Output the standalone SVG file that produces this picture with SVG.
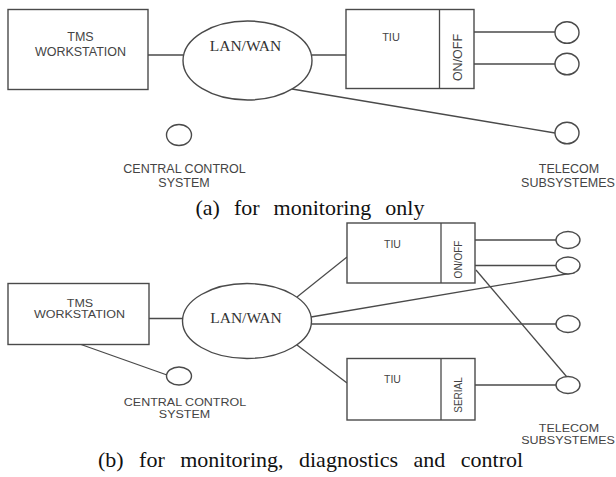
<svg xmlns="http://www.w3.org/2000/svg" width="616" height="477" viewBox="0 0 616 477">
<style>
.shape{fill:#fff;stroke:#4a4a4a;stroke-width:1.4}
.ln{fill:none;stroke:#4a4a4a;stroke-width:1.3}
.lbl{font-family:"Liberation Sans",Arial,sans-serif;font-size:12.5px;fill:#444;text-anchor:middle}
.sm{font-family:"Liberation Sans",Arial,sans-serif;fill:#444;text-anchor:middle}
.net{font-family:"Liberation Serif","Times New Roman",serif;font-size:15.5px;fill:#333;text-anchor:middle}
.cap{font-family:"Liberation Serif","Times New Roman",serif;font-size:22px;fill:#111;text-anchor:middle}
</style>
<rect width="616" height="477" fill="#fff"/>

<!-- (a) connectors -->
<g id="connectors-a">
<line class="ln" x1="148" y1="55" x2="183" y2="55"/>
<line class="ln" x1="312" y1="55" x2="346" y2="55"/>
<line class="ln" x1="474" y1="32" x2="555" y2="32"/>
<line class="ln" x1="474" y1="64" x2="555" y2="64"/>
<line class="ln" x1="292" y1="89" x2="555" y2="133"/>
</g>

<g id="a-tms">
<rect class="shape" x="8" y="9.5" width="140" height="80"/>
<text class="lbl" x="80.5" y="40.5">TMS</text>
<text class="lbl" x="80.5" y="56">WORKSTATION</text>
</g>
<g id="a-lanwan">
<ellipse class="shape" cx="247.5" cy="60.5" rx="64.5" ry="39.5"/>
<text class="net" x="245.5" y="51">LAN/WAN</text>
</g>
<g id="a-tiu">
<rect class="shape" x="346" y="9.5" width="128" height="79"/>
<line class="ln" x1="439.5" y1="9.5" x2="439.5" y2="88.5"/>
<text class="sm" font-size="11" x="391" y="41">TIU</text>
<text class="lbl" transform="translate(461.5,57.5) rotate(-90)">ON/OFF</text>
</g>
<g id="a-sub1"><ellipse class="shape" cx="567" cy="32.5" rx="12" ry="10.8"/></g>
<g id="a-sub2"><ellipse class="shape" cx="567" cy="64" rx="12" ry="10.8"/></g>
<g id="a-sub3"><ellipse class="shape" cx="567" cy="133" rx="12" ry="10.8"/></g>
<g id="a-central">
<ellipse class="shape" cx="179" cy="135" rx="12.5" ry="10.5"/>
<text class="lbl" x="184.5" y="173">CENTRAL CONTROL</text>
<text class="lbl" x="184" y="187">SYSTEM</text>
</g>
<g id="a-telecom-label">
<text class="lbl" x="569" y="173">TELECOM</text>
<text class="lbl" x="568" y="187">SUBSYSTEMES</text>
</g>
<text class="cap" x="310" y="215" word-spacing="8.5">(a) for monitoring only</text>

<!-- (b) connectors -->
<g id="connectors-b">
<line class="ln" x1="149" y1="318.5" x2="183" y2="318.5"/>
<line class="ln" x1="74" y1="342" x2="167" y2="375"/>
<line class="ln" x1="297" y1="297" x2="347" y2="257"/>
<line class="ln" x1="297" y1="345" x2="347" y2="383"/>
<line class="ln" x1="475" y1="240" x2="556" y2="240"/>
<line class="ln" x1="475" y1="265.5" x2="556" y2="265.5"/>
<line class="ln" x1="311" y1="317" x2="575" y2="272.5"/>
<line class="ln" x1="311.5" y1="324" x2="556" y2="324"/>
<line class="ln" x1="475" y1="385" x2="556" y2="385"/>
<line class="ln" x1="476" y1="270" x2="566.5" y2="376.5"/>
</g>

<g id="b-tms">
<rect class="shape" x="8" y="283.5" width="141" height="61"/>
<text class="lbl" transform="translate(80,307) scale(1,0.82)">TMS</text>
<text class="lbl" transform="translate(79.5,318) scale(1,0.82)">WORKSTATION</text>
</g>
<g id="b-lanwan">
<ellipse class="shape" cx="247" cy="321" rx="64.5" ry="37.5"/>
<text class="net" x="246" y="323">LAN/WAN</text>
</g>
<g id="b-tiu1">
<rect class="shape" x="347" y="223" width="128" height="60"/>
<line class="ln" x1="441" y1="223" x2="441" y2="283"/>
<text class="sm" font-size="10.5" x="392.5" y="248">TIU</text>
<text class="sm" font-size="10" transform="translate(461.6,259.5) rotate(-90)">ON/OFF</text>
</g>
<g id="b-tiu2">
<rect class="shape" x="347" y="358.5" width="128" height="61.5"/>
<line class="ln" x1="441" y1="358.5" x2="441" y2="420"/>
<text class="sm" font-size="10.5" x="392.5" y="383">TIU</text>
<text class="sm" font-size="10" transform="translate(462.3,395) rotate(-90)">SERIAL</text>
</g>
<g id="b-sub1"><ellipse class="shape" cx="568" cy="240" rx="12" ry="8.5"/></g>
<g id="b-sub2"><ellipse class="shape" cx="568" cy="265.5" rx="12" ry="8.5"/></g>
<g id="b-sub3"><ellipse class="shape" cx="568" cy="324" rx="12" ry="8.5"/></g>
<g id="b-sub4"><ellipse class="shape" cx="568" cy="385" rx="12" ry="8.5"/></g>
<g id="b-central">
<ellipse class="shape" cx="179" cy="376" rx="12.5" ry="9"/>
<text class="lbl" transform="translate(185,406) scale(1,0.82)">CENTRAL CONTROL</text>
<text class="lbl" transform="translate(184.5,417.5) scale(1,0.82)">SYSTEM</text>
</g>
<g id="b-telecom-label">
<text class="lbl" transform="translate(569,432) scale(1,0.82)">TELECOM</text>
<text class="lbl" transform="translate(568,444) scale(1,0.82)">SUBSYSTEMES</text>
</g>
<text class="cap" x="310.5" y="467" word-spacing="10">(b) for monitoring, diagnostics and control</text>
</svg>
